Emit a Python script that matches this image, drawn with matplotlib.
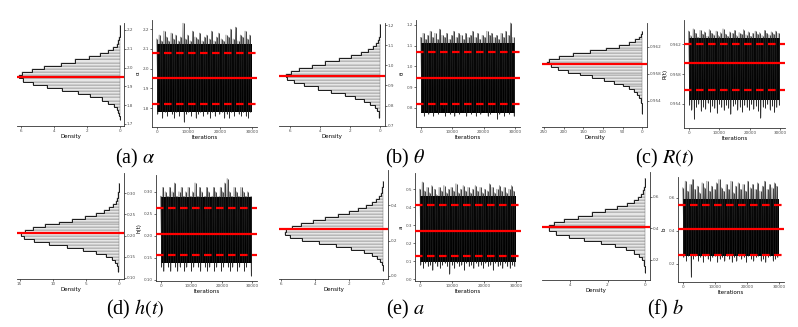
import numpy as np
import matplotlib
matplotlib.use("Agg")
import matplotlib.pyplot as plt

plt.rcParams['mathtext.fontset'] = 'stix'
plt.rcParams['font.family'] = ['DejaVu Sans']

W, H = 798, 327
n_iter = 30000

# ---------------- data ----------------
# (a) alpha
a_range = (1.723, 2.229)
a_dens = [0.02, 0.05, 0.10, 0.21, 0.37, 0.70, 1.10, 1.80, 2.52, 3.50, 4.40, 5.30, 5.85, 6.10, 5.95,
          5.35, 4.60, 3.60, 2.72, 1.85, 1.24, 0.72, 0.43, 0.21, 0.11, 0.05, 0.022, 0.01, 0.006, 0.003]
a_mean, a_q = 1.952, (1.822, 2.077)
a_hi = [2.15, 2.17, 2.14, 2.19, 2.16, 2.14, 2.18, 2.15, 2.17, 2.14, 2.16, 2.23, 2.15, 2.17, 2.14, 2.19, 2.16, 2.15, 2.18, 2.14,
        2.16, 2.17, 2.15, 2.19, 2.14, 2.16, 2.18, 2.15, 2.14, 2.17, 2.16, 2.20, 2.15, 2.21, 2.14, 2.17, 2.16, 2.19, 2.15, 2.17]
a_lo = [1.77, 1.79, 1.75, 1.78, 1.76, 1.79, 1.77, 1.75, 1.78, 1.76, 1.79, 1.73, 1.77, 1.78, 1.76, 1.79, 1.75, 1.77, 1.78, 1.76,
        1.79, 1.77, 1.75, 1.78, 1.76, 1.79, 1.77, 1.78, 1.75, 1.77, 1.75, 1.78, 1.76, 1.79, 1.77, 1.76, 1.78, 1.76, 1.75, 1.78]
a_core = (1.78, 2.125)

# (b) theta
b_range = (0.740, 1.205)
b_dens = [0.05, 0.10, 0.20, 0.37, 0.66, 1.05, 1.65, 2.35, 3.25, 4.15, 5.05, 5.70, 6.20, 6.27, 5.95,
          5.40, 4.55, 3.66, 2.72, 1.95, 1.30, 0.82, 0.48, 0.27, 0.14, 0.07, 0.033, 0.015, 0.006, 0.003]
b_mean, b_q = 0.945, (0.818, 1.070)
b_hi = [1.14, 1.16, 1.13, 1.15, 1.17, 1.14, 1.16, 1.13, 1.18, 1.15, 1.14, 1.16, 1.13, 1.15, 1.17, 1.14, 1.16, 1.15, 1.13, 1.16,
        1.14, 1.15, 1.17, 1.14, 1.16, 1.13, 1.15, 1.14, 1.17, 1.15, 1.16, 1.14, 1.15, 1.13, 1.16, 1.14, 1.17, 1.15, 1.21, 1.14]
b_lo = [0.78, 0.76, 0.79, 0.77, 0.78, 0.76, 0.79, 0.77, 0.78, 0.80, 0.76, 0.78, 0.77, 0.79, 0.76, 0.78, 0.77, 0.79, 0.78, 0.76,
        0.78, 0.77, 0.79, 0.76, 0.78, 0.77, 0.79, 0.78, 0.76, 0.77, 0.79, 0.78, 0.745, 0.77, 0.79, 0.76, 0.78, 0.77, 0.79, 0.76]
b_core = (0.775, 1.115)

# (c) R(t)
c_range = (0.9520, 0.9643)
c_dens = [0.1, 0.23, 0.5, 1.1, 2.1, 4.0, 7.3, 12.6, 20.8, 32.8, 49.3, 70.8, 97.0, 127, 158,
          189, 215, 233, 242, 237, 213, 176, 133, 92.7, 59.2, 34.7, 18.7, 9.2, 4.2, 1.7]
c_mean, c_q = 0.9595, (0.9559, 0.9621)
c_hi = [0.9638, 0.9632, 0.9641, 0.9635, 0.9630, 0.9639, 0.9634, 0.9637, 0.9631, 0.9640, 0.9635, 0.9633, 0.9638, 0.9632,
        0.9636, 0.9641, 0.9634, 0.9631, 0.9637, 0.9635, 0.9639, 0.9632, 0.9636, 0.9634, 0.9640, 0.9633, 0.9637, 0.9631,
        0.9635, 0.9638, 0.9634, 0.9636, 0.9632, 0.9639, 0.9635, 0.9633, 0.9637, 0.9634, 0.9638, 0.9635]
c_lo = [0.9538, 0.9532, 0.9519, 0.9535, 0.9540, 0.9530, 0.9536, 0.9533, 0.9541, 0.9529, 0.9537, 0.9534, 0.9527, 0.9539,
        0.9535, 0.9531, 0.9538, 0.9534, 0.9526, 0.9537, 0.9540, 0.9532, 0.9536, 0.9529, 0.9538, 0.9535, 0.9531, 0.9539,
        0.9533, 0.9537, 0.9530, 0.9521, 0.9536, 0.9534, 0.9539, 0.9532, 0.9537, 0.9528, 0.9535, 0.9538]
c_core = (0.9545, 0.9629)

# (d) h(t)
d_range = (0.113, 0.325)
d_dens = [0.035, 0.09, 0.23, 0.51, 1.05, 1.98, 3.42, 5.42, 7.9, 10.5, 12.8, 14.4, 14.8, 14.2, 12.95,
          11.2, 9.1, 7.0, 5.1, 3.5, 2.3, 1.43, 0.83, 0.46, 0.24, 0.12, 0.055, 0.025, 0.011, 0.005]
d_mean, d_q = 0.205, (0.157, 0.264)
d_hi = [0.29, 0.31, 0.30, 0.29, 0.31, 0.30, 0.32, 0.29, 0.30, 0.31, 0.29, 0.30, 0.31, 0.29, 0.30, 0.32, 0.29, 0.31, 0.30, 0.29,
        0.31, 0.30, 0.29, 0.31, 0.30, 0.29, 0.31, 0.30, 0.32, 0.33, 0.30, 0.29, 0.31, 0.30, 0.29, 0.31, 0.30, 0.29, 0.30, 0.29]
d_lo = [0.13, 0.12, 0.14, 0.13, 0.12, 0.14, 0.13, 0.12, 0.13, 0.14, 0.12, 0.13, 0.14, 0.12, 0.13, 0.14, 0.13, 0.12, 0.14, 0.13,
        0.12, 0.13, 0.14, 0.12, 0.13, 0.14, 0.12, 0.13, 0.14, 0.13, 0.12, 0.13, 0.14, 0.12, 0.13, 0.14, 0.12, 0.13, 0.14, 0.11]
d_core = (0.138, 0.287)

# (e) a
e_range = (0.030, 0.540)
e_dens = [0.01, 0.03, 0.07, 0.16, 0.33, 0.64, 1.14, 1.85, 2.76, 3.78, 4.74, 5.46, 5.77, 5.68, 5.34,
          4.81, 4.13, 3.40, 2.66, 2.00, 1.44, 0.98, 0.65, 0.40, 0.24, 0.14, 0.076, 0.04, 0.02, 0.01]
e_mean, e_q = 0.265, (0.130, 0.410)
e_hi = [0.50, 0.54, 0.49, 0.51, 0.48, 0.52, 0.50, 0.47, 0.51, 0.49, 0.52, 0.48, 0.50, 0.51, 0.49, 0.53, 0.48, 0.50, 0.52, 0.49,
        0.51, 0.48, 0.50, 0.52, 0.49, 0.51, 0.48, 0.50, 0.49, 0.53, 0.51, 0.48, 0.50, 0.52, 0.49, 0.51, 0.48, 0.50, 0.52, 0.49]
e_lo = [0.08, 0.06, 0.09, 0.07, 0.08, 0.05, 0.09, 0.07, 0.06, 0.08, 0.09, 0.07, 0.03, 0.08, 0.06, 0.09, 0.07, 0.08, 0.05, 0.09,
        0.07, 0.08, 0.06, 0.09, 0.07, 0.08, 0.06, 0.09, 0.07, 0.08, 0.05, 0.09, 0.07, 0.08, 0.06, 0.09, 0.07, 0.06, 0.08, 0.07]
e_core = (0.095, 0.46)

# (f) b
f_range = (0.120, 0.720)
f_dens = [0.005, 0.012, 0.03, 0.074, 0.16, 0.32, 0.59, 1.01, 1.61, 2.37, 3.23, 4.07, 4.75, 5.13, 5.14,
          4.84, 4.30, 3.60, 2.84, 2.11, 1.47, 0.97, 0.60, 0.35, 0.19, 0.10, 0.05, 0.023, 0.01, 0.004]
f_mean, f_q = 0.410, (0.255, 0.555)
f_hi = [0.66, 0.70, 0.64, 0.68, 0.71, 0.65, 0.67, 0.63, 0.69, 0.66, 0.70, 0.64, 0.67, 0.65, 0.69, 0.71, 0.66, 0.64, 0.68, 0.65,
        0.70, 0.63, 0.67, 0.69, 0.65, 0.68, 0.64, 0.70, 0.66, 0.68, 0.65, 0.69, 0.64, 0.67, 0.70, 0.65, 0.68, 0.66, 0.69, 0.67]
f_lo = [0.24, 0.22, 0.25, 0.12, 0.23, 0.25, 0.22, 0.24, 0.21, 0.25, 0.23, 0.22, 0.24, 0.25, 0.21, 0.23, 0.24, 0.22, 0.25, 0.23,
        0.21, 0.24, 0.22, 0.25, 0.23, 0.24, 0.21, 0.25, 0.23, 0.22, 0.24, 0.25, 0.22, 0.23, 0.21, 0.24, 0.25, 0.22, 0.23, 0.24]
f_core = (0.245, 0.59)

iter_ticks = [0, 10000, 20000, 30000]
captions = [r"(a) $\alpha$", r"(b) $\theta$", r"(c) $R(t)$", r"(d) $h(t)$", r"(e) $a$", r"(f) $b$"]
param_labels = ["α", "θ", "R(t)", "h(t)", "a", "b"]

# ---------------- layout ----------------
panels = [
    dict(rng=a_range, dens=a_dens, mean=a_mean, q=a_q, hi=a_hi, lo=a_lo, core=a_core,
         hbox=(17, 23, 124, 126), tbox=(152, 20, 257, 127),
         hy=(1.689, 2.237), ty=(1.704, 2.246), hx=(6.24, -0.24),
         yt=[1.7, 1.8, 1.9, 2.0, 2.1, 2.2], tyt=[1.8, 1.9, 2.0, 2.1, 2.2], fmt="%.1f",
         xt=[6, 4, 2, 0], cap=(135, 158)),
    dict(rng=b_range, dens=b_dens, mean=b_mean, q=b_q, hi=b_hi, lo=b_lo, core=b_core,
         hbox=(279, 23, 385, 126), tbox=(416, 20, 520, 127),
         hy=(0.699, 1.21), ty=(0.707, 1.224), hx=(6.72, -0.32),
         yt=[0.7, 0.8, 0.9, 1.0, 1.1, 1.2], tyt=[0.8, 0.9, 1.0, 1.1, 1.2], fmt="%.1f",
         xt=[6, 4, 2, 0], cap=(405, 158)),
    dict(rng=c_range, dens=c_dens, mean=c_mean, q=c_q, hi=c_hi, lo=c_lo, core=c_core,
         hbox=(542, 23, 647, 127), tbox=(684, 20, 785, 128),
         hy=(0.9501, 0.9655), ty=(0.9507, 0.9653), hx=(255, -12),
         yt=[0.954, 0.958, 0.962], tyt=[0.954, 0.958, 0.962], fmt="%.3f",
         xt=[250, 200, 150, 100, 50, 0], cap=(665, 158)),
    dict(rng=d_range, dens=d_dens, mean=d_mean, q=d_q, hi=d_hi, lo=d_lo, core=d_core,
         hbox=(17, 173, 124, 279), tbox=(156, 175, 257, 281),
         hy=(0.097, 0.348), ty=(0.0977, 0.338), hx=(15.4, -0.8),
         yt=[0.10, 0.15, 0.20, 0.25, 0.30], tyt=[0.10, 0.15, 0.20, 0.25, 0.30], fmt="%.2f",
         xt=[15, 10, 5, 0], cap=(135, 309)),
    dict(rng=e_range, dens=e_dens, mean=e_mean, q=e_q, hi=e_hi, lo=e_lo, core=e_core,
         hbox=(279, 170, 388, 279), tbox=(415, 173, 521, 281),
         hy=(-0.017, 0.60), ty=(-0.011, 0.59), hx=(6.1, -0.29),
         yt=[0.0, 0.2, 0.4], tyt=[0.0, 0.1, 0.2, 0.3, 0.4, 0.5], fmt="%.1f",
         xt=[6, 4, 2, 0], cap=(405, 309)),
    dict(rng=f_range, dens=f_dens, mean=f_mean, q=f_q, hi=f_hi, lo=f_lo, core=f_core,
         hbox=(542, 172, 650, 280), tbox=(678, 177, 784, 282),
         hy=(0.073, 0.756), ty=(0.09, 0.725), hx=(5.5, -0.27),
         yt=[0.2, 0.4, 0.6], tyt=[0.2, 0.4, 0.6], fmt="%.1f",
         xt=[4, 2, 0], cap=(665, 309)),
]

fig = plt.figure(figsize=(W / 100, H / 100), dpi=100)


def add_ax(box):
    x0, y0, x1, y1 = box
    return fig.add_axes([x0 / W, 1 - y1 / H, (x1 - x0) / W, (y1 - y0) / H])


AX_COL = "#333333"
TICK_COL = "#4d4d4d"
TICK_FS = 3.0
LAB_FS = 4.0
RED = "#ff0000"
DASH = (0, (3.4, 2.0))


def style(ax, side):
    for s in ax.spines.values():
        s.set_visible(False)
    ax.spines["bottom"].set_visible(True)
    ax.spines[side].set_visible(True)
    for s in ("bottom", side):
        ax.spines[s].set_color(AX_COL)
        ax.spines[s].set_linewidth(0.6)
    ax.tick_params(length=1.2, width=0.5, color=AX_COL, labelsize=TICK_FS,
                   labelcolor=TICK_COL, pad=0.9)
    ax.patch.set_alpha(0)


for i, p in enumerate(panels):
    # histogram
    hx = add_ax(p["hbox"])
    dens = np.array(p["dens"], dtype=float)
    edges = np.linspace(p["rng"][0], p["rng"][1], len(dens) + 1)
    centers = 0.5 * (edges[:-1] + edges[1:])
    hgt = edges[1] - edges[0]
    hx.barh(centers, dens, height=hgt, left=0, color="#e6e6e6", edgecolor="#6a6a6a",
            linewidth=0.3)
    hx.stairs(dens, edges, orientation="horizontal", baseline=None, color="#1a1a1a", lw=0.7)
    hx.set_xlim(*p["hx"])
    hx.set_ylim(*p["hy"])
    hx.axhline(p["mean"], color=RED, lw=1.6, zorder=5)
    style(hx, "right")
    hx.yaxis.tick_right()
    hx.set_yticks(p["yt"])
    hx.set_yticklabels([p["fmt"] % v for v in p["yt"]])
    hx.set_xticks(p["xt"])
    hx.set_xticklabels([str(v) for v in p["xt"]])
    hx.set_xlabel("Density", fontsize=LAB_FS, labelpad=1.0)

    # trace
    tx = add_ax(p["tbox"])
    hi = np.array(p["hi"])
    lo = np.array(p["lo"])
    nb = len(hi)
    bx = np.linspace(0, n_iter, nb + 1)
    dx = bx[1] - bx[0]
    xs = np.column_stack([bx[:-1], bx[:-1] + dx * 0.5]).ravel()
    ys = np.column_stack([hi, lo]).ravel()
    tx.fill_between([0, n_iter], p["core"][0], p["core"][1], color="black", lw=0)
    tx.vlines(bx[:-1] + dx * 0.25, lo, hi, color="#222222", lw=0.7, alpha=0.85)
    tx.plot(xs, ys, color="#111111", lw=0.45, alpha=0.7)
    tx.axhline(p["mean"], color=RED, lw=1.6, zorder=5)
    for qv in p["q"]:
        tx.axhline(qv, color=RED, lw=1.6, ls=DASH, zorder=5)
    tx.set_xlim(-1500, 31500)
    tx.set_ylim(*p["ty"])
    style(tx, "left")
    tx.set_yticks(p["tyt"])
    tx.set_yticklabels([p["fmt"] % v for v in p["tyt"]])
    tx.set_xticks(iter_ticks)
    tx.set_xticklabels([str(v) for v in iter_ticks])
    tx.set_xlabel("Iterations", fontsize=LAB_FS, labelpad=1.0)
    tx.set_ylabel(param_labels[i], fontsize=LAB_FS, labelpad=1.5)

    cx, cy = p["cap"]
    fig.text(cx / W, 1 - cy / H, captions[i], ha="center", va="center",
             fontsize=14.5, family="Liberation Serif")

fig.savefig("out.png", dpi=100)
